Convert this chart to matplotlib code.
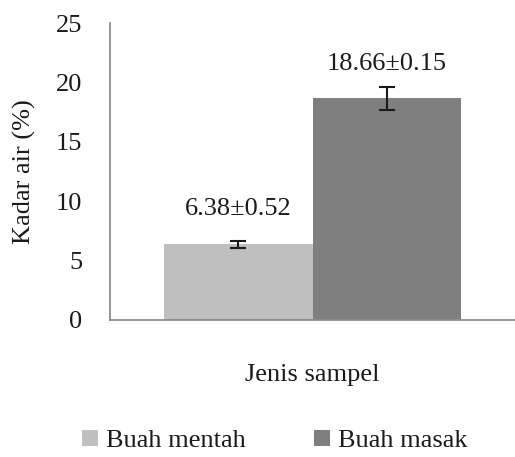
import matplotlib
matplotlib.use("Agg")
import matplotlib.pyplot as plt
from matplotlib.patches import Patch

categories = ["Buah mentah", "Buah masak"]
values = [6.38, 18.66]
errors = [0.3, 0.95]
labels = ["6.38±0.52", "18.66±0.15"]
colors = ["#bfbfbf", "#7f7f7f"]
yticks = [0, 5, 10, 15, 20, 25]

plt.rcParams['font.family'] = ['Liberation Serif', 'DejaVu Serif']
FS = 19

fig = plt.figure(figsize=(5.15, 4.57), dpi=100)
ax = fig.add_axes([110/515, 1-320/457, 1-110/515, (320-23)/457])

xs = [-0.25, 0.25]
for x, v, e, c, lab in zip(xs, values, errors, colors, labels):
    ax.bar(x, v, width=0.5, color=c, edgecolor='none', zorder=2)
    ax.errorbar(x, v, yerr=e, fmt='none', ecolor='#1a1a1a', elinewidth=1.5,
                capsize=5.5, capthick=1.5, zorder=3)
    ax.annotate(lab, (x, v), xytext=(0, 25), textcoords='offset points',
                ha='center', va='center', fontsize=FS, color='#1a1a1a')

ax.set_xlim(-0.684, 0.684)
ax.set_ylim(0, 25)
ax.set_yticks(yticks)
ax.set_yticklabels([str(t) for t in yticks], fontsize=FS, color='#1a1a1a')
ax.set_xticks([])
ax.tick_params(axis='y', length=0, pad=20)
for s in ['top', 'right']:
    ax.spines[s].set_visible(False)
for s in ['left', 'bottom']:
    ax.spines[s].set_color('#8c8c8c')
    ax.spines[s].set_linewidth(1.3)

ax.set_ylabel("Kadar air (%)", fontsize=FS, color='#1a1a1a', labelpad=14)
fig.text(312/515, 1-375/457, "Jenis sampel", ha='center', va='center',
         fontsize=FS, color='#1a1a1a')

handles = [Patch(facecolor=c, edgecolor='none') for c in colors]
fig.legend(handles, categories, loc='center', bbox_to_anchor=(275/515, 1-441/457),
           ncol=2, frameon=False, fontsize=FS, handlelength=0.6, handleheight=0.6,
           handletextpad=0.3, columnspacing=2.6, borderpad=0, labelcolor='#1a1a1a')

fig.savefig("out.png", dpi=100)
